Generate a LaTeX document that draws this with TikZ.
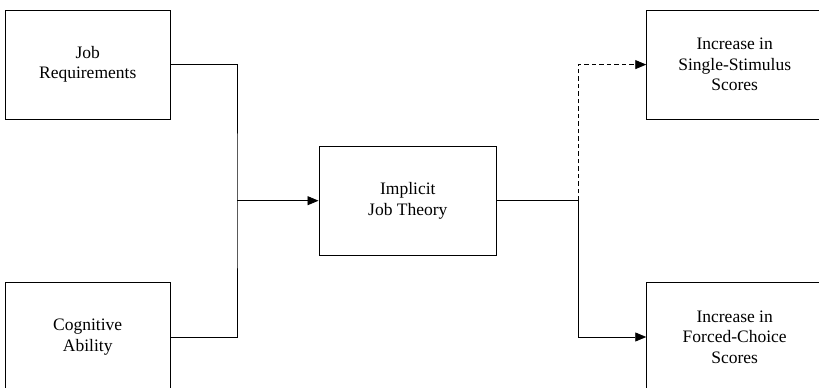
\documentclass[tikz,border=0pt]{standalone}
\usepackage{fontspec}
\setmainfont{Liberation Serif}
\usetikzlibrary{arrows.meta}
\begin{document}
\begin{tikzpicture}[x=1pt,y=1pt,
  box/.style={draw, line width=0.9pt, minimum height=109pt, inner sep=0pt,
    align=center, font=\fontsize{17.5}{20.5}\selectfont},
  link/.style={line width=0.9pt},
  tip/.style={-{Triangle[length=11pt,width=9pt]}}]
  \useasboundingbox (0,0) rectangle (819,388);
  \clip (0,0) rectangle (819,388);
  % input boxes
  \node[box, minimum width=164.7pt] (job) at (87.7,323.5) {Job\\Requirements};
  \node[box, minimum width=164.7pt] (cog) at (87.7,50.8) {Cognitive\\Ability};
  % mediator
  \node[box, minimum width=177.7pt] (ijt) at (407.8,187.3) {Implicit\\Job Theory};
  % outcomes
  \node[box, minimum width=176pt] (ss) at (734.7,323.4) {Increase in\\Single-Stimulus\\Scores};
  \node[box, minimum width=176pt] (fc) at (734.7,51) {Increase in\\Forced-Choice\\Scores};
  % junctions
  \coordinate (jin) at (237,187.3);
  \coordinate (jout) at (578,187.3);
  % inputs merge into the mediator
  \draw[link] (job.east) -| (jin) |- (cog.east);
  \draw[link, tip] (jin) -- (ijt.west);
  % mediator splits to the outcomes
  \draw[link] (ijt.east) -- (jout);
  \draw[link, tip] (jout) |- (fc.west);
  \draw[link, tip, dash pattern=on 4.5pt off 3pt] (jout) |- (ss.west);
\end{tikzpicture}
\end{document}
